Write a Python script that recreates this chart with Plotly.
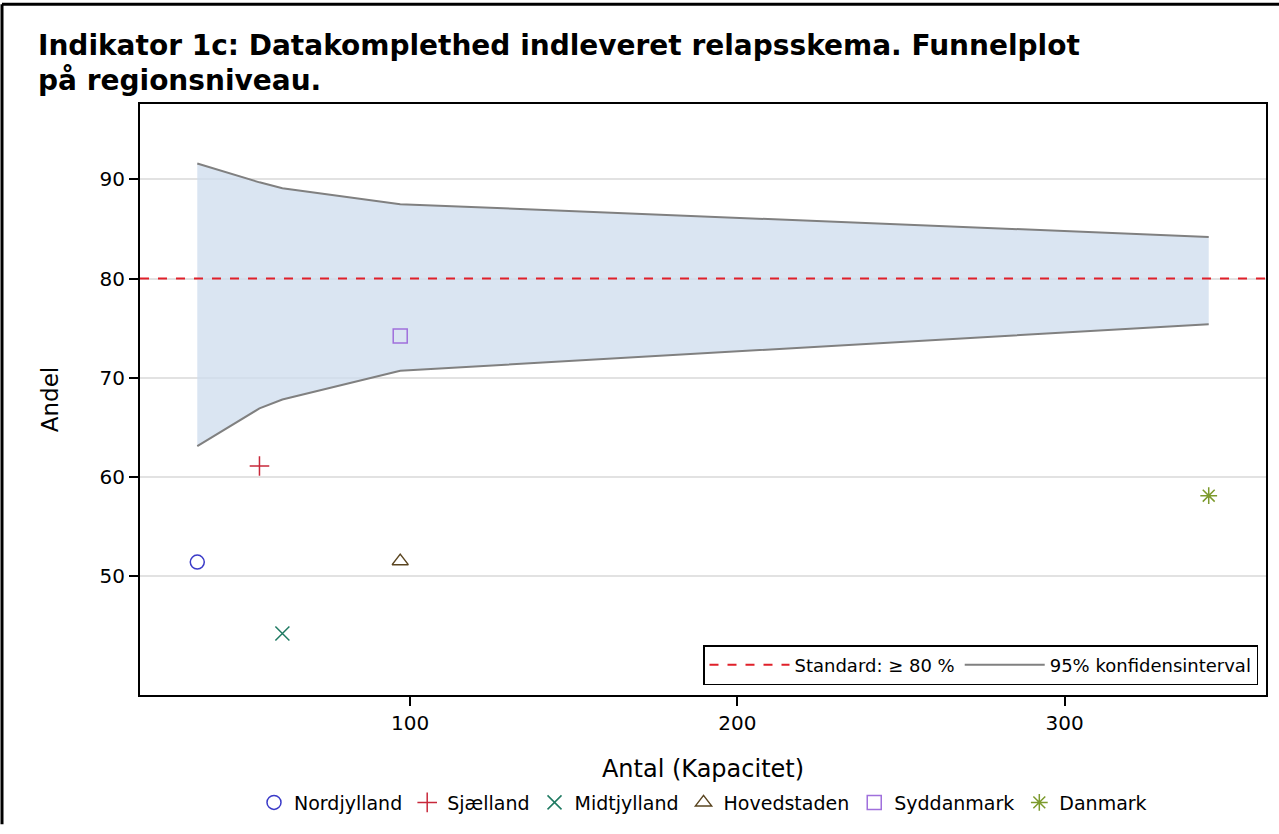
import plotly.graph_objects as go

# Regional data: number of patients (x) and share with completed relapse form (y)
regions = ["Nordjylland", "Sjælland", "Midtjylland", "Hovedstaden", "Syddanmark", "Danmark"]
antal = [35, 54, 61, 97, 97, 344]
andel = [51.4, 61.1, 44.2, 51.5, 74.2, 58.1]

symbols = ["circle-open", "cross-thin-open", "x-thin-open", "triangle-up-open", "square-open", "asterisk-open"]
colors = ["#3b3bc8", "#c8283a", "#1f7a62", "#5a4520", "#a070dc", "#7c9a2c"]

# 95% confidence funnel evaluated at the regional sample sizes
ci_x = [35, 54, 61, 97, 344]
ci_upper = [91.6, 89.7, 89.1, 87.5, 84.2]
ci_lower = [63.1, 66.9, 67.8, 70.7, 75.4]

standard = 80
x_range = [17.5, 361.5]
y_range = [38.0, 97.6]
x_ticks = [100, 200, 300]
y_ticks = [50, 60, 70, 80, 90]

title_lines = ["Indikator 1c: Datakomplethed indleveret relapsskema. Funnelplot",
               "på regionsniveau."]

FONT = "DejaVu Sans"
CI_COLOR = "#808080"
fig = go.Figure()

# Funnel band: lower bound first, upper bound filled down to it
fig.add_trace(go.Scatter(
    x=ci_x, y=ci_lower, mode="lines",
    line=dict(color=CI_COLOR, width=2),
    showlegend=False, hoverinfo="skip",
))
fig.add_trace(go.Scatter(
    x=ci_x, y=ci_upper, mode="lines",
    line=dict(color=CI_COLOR, width=2),
    fill="tonexty", fillcolor="rgba(205,220,238,0.75)",
    showlegend=False,
))

# Standard reference line
fig.add_trace(go.Scatter(
    x=x_range, y=[standard, standard], mode="lines",
    line=dict(color="#e0202a", width=2, dash="dash"),
    name="Standard: ≥ 80 %", legend="legend2",
))
# legend key for the confidence band boundary
fig.add_trace(go.Scatter(
    x=[None], y=[None], mode="lines",
    line=dict(color=CI_COLOR, width=2),
    name="95% konfidensinterval", legend="legend2",
))

for name, xv, yv, sym, col in zip(regions, antal, andel, symbols, colors):
    fig.add_trace(go.Scatter(
        x=[xv], y=[yv], mode="markers", name=name,
        marker=dict(symbol=sym, size=14, color=col, line=dict(color=col, width=1.5)),
    ))

W, H = 1279, 834
ml, mr, mt, mb = 140, 13, 104, 131
pw, ph = W - ml - mr, H - mt - mb

def px_x(p):
    return (p - ml) / pw

def px_y(p):
    return (H - mb - p) / ph

fig.update_layout(
    width=W, height=H,
    margin=dict(l=ml, r=mr, t=mt, b=mb),
    paper_bgcolor="white", plot_bgcolor="white",
    font=dict(family=FONT, size=19, color="black"),
    xaxis=dict(
        range=x_range, tickvals=x_ticks, showgrid=False, zeroline=False,
        showline=True, linecolor="black", linewidth=2, mirror=True,
        ticks="outside", ticklen=9, tickwidth=2, tickcolor="black",
        tickfont=dict(size=20),
        title=dict(text="Antal (Kapacitet)", font=dict(size=24), standoff=26),
    ),
    yaxis=dict(
        range=y_range, tickvals=y_ticks, showgrid=True, gridcolor="#e2e2e2", gridwidth=1.5,
        zeroline=False, showline=True, linecolor="black", linewidth=2, mirror=True,
        ticks="outside", ticklen=9, tickwidth=2, tickcolor="black",
        tickfont=dict(size=20),
        title=dict(text="Andel", font=dict(size=23), standoff=34),
    ),
    legend=dict(
        orientation="h", x=(703 - ml) / pw, xanchor="center", y=px_y(812), yanchor="middle",
        font=dict(size=19), tracegroupgap=0, bgcolor="rgba(0,0,0,0)",
        traceorder="normal",
    ),
    legend2=dict(
        orientation="h", x=px_x(1258), xanchor="right", y=px_y(693), yanchor="bottom",
        font=dict(size=18), bgcolor="white", bordercolor="black", borderwidth=1.5,
        itemwidth=80, traceorder="normal", tracegroupgap=0,
    ),
    showlegend=True,
)

# Two-line bold heading
for line, ypx in zip(title_lines, [45, 80]):
    fig.add_annotation(
        text=f"<b>{line}</b>", xref="paper", yref="paper",
        x=px_x(36), y=px_y(ypx), xanchor="left", yanchor="middle",
        showarrow=False, font=dict(family=FONT, size=28, color="black"),
    )

# Outer frame edges (top and left)
fig.add_shape(type="line", xref="paper", yref="paper",
              x0=px_x(2), x1=px_x(1279), y0=px_y(3), y1=px_y(3),
              line=dict(color="black", width=3), layer="above")
fig.add_shape(type="line", xref="paper", yref="paper",
              x0=px_x(2), x1=px_x(2), y0=px_y(3), y1=px_y(834),
              line=dict(color="black", width=3), layer="above")

fig.write_html("out.html")
